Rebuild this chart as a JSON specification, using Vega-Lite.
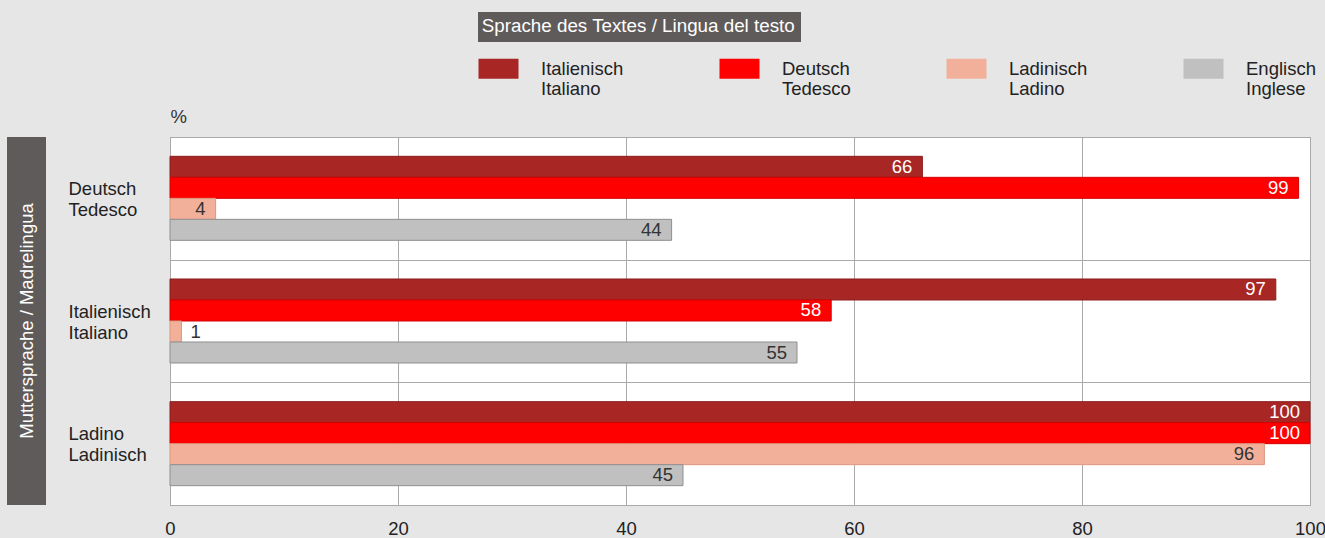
{
  "$schema": "https://vega.github.io/schema/vega-lite/v6.json",
  "background": "#e6e6e6",
  "padding": {"left": 7, "top": 12, "right": 0, "bottom": 0},
  "config": {
    "font": "Liberation Sans",
    "view": {"stroke": null}
  },
  "bounds": "flush",
  "spacing": 124,
  "hconcat": [
    {
      "width": 39,
      "height": 368,
      "view": {"fill": "#5f5b5a", "stroke": null},
      "data": {"values": [{"t": "Muttersprache / Madrelingua"}]},
      "mark": {"type": "text", "angle": 270, "color": "#ffffff", "fontSize": 18.5, "align": "center", "baseline": "middle"},
      "encoding": {"text": {"field": "t"}}
    },
    {
      "width": 1140,
      "height": 368,
      "view": {"fill": "#ffffff", "stroke": "#777777"},
      "data": {"values": [
        {"Muttersprache": "Deutsch|Tedesco", "Textsprache": "Italienisch|Italiano", "Wert": 66},
        {"Muttersprache": "Deutsch|Tedesco", "Textsprache": "Deutsch|Tedesco", "Wert": 99},
        {"Muttersprache": "Deutsch|Tedesco", "Textsprache": "Ladinisch|Ladino", "Wert": 4},
        {"Muttersprache": "Deutsch|Tedesco", "Textsprache": "Englisch|Inglese", "Wert": 44},
        {"Muttersprache": "Italienisch|Italiano", "Textsprache": "Italienisch|Italiano", "Wert": 97},
        {"Muttersprache": "Italienisch|Italiano", "Textsprache": "Deutsch|Tedesco", "Wert": 58},
        {"Muttersprache": "Italienisch|Italiano", "Textsprache": "Ladinisch|Ladino", "Wert": 1},
        {"Muttersprache": "Italienisch|Italiano", "Textsprache": "Englisch|Inglese", "Wert": 55},
        {"Muttersprache": "Ladino|Ladinisch", "Textsprache": "Italienisch|Italiano", "Wert": 100},
        {"Muttersprache": "Ladino|Ladinisch", "Textsprache": "Deutsch|Tedesco", "Wert": 100},
        {"Muttersprache": "Ladino|Ladinisch", "Textsprache": "Ladinisch|Ladino", "Wert": 96},
        {"Muttersprache": "Ladino|Ladinisch", "Textsprache": "Englisch|Inglese", "Wert": 45}
      ]},
      "encoding": {
        "y": {
          "field": "Muttersprache", "type": "nominal",
          "sort": ["Deutsch|Tedesco", "Italienisch|Italiano", "Ladino|Ladinisch"],
          "scale": {"paddingInner": 0, "paddingOuter": 0},
          "axis": {
            "title": "%", "titleAngle": 0, "titleAlign": "left", "titleBaseline": "bottom",
            "titleX": 0, "titleY": -11, "titleFontSize": 18.5, "titleFontWeight": "normal", "titleColor": "#333333",
            "labelExpr": "split(datum.label, '|')",
            "labelAlign": "left", "labelPadding": 102, "labelFontSize": 18.5, "labelColor": "#222222",
            "labelLineHeight": 21, "labelOffset": -10,
            "ticks": false, "tickSize": 0, "domain": false,
            "grid": true, "tickBand": "extent", "gridColor": "#aaaaaa", "gridOpacity": 1
          }
        },
        "yOffset": {
          "field": "Textsprache", "type": "nominal",
          "sort": ["Italienisch|Italiano", "Deutsch|Tedesco", "Ladinisch|Ladino", "Englisch|Inglese"],
          "scale": {"paddingInner": 0, "paddingOuter": 0.92}
        },
        "x": {
          "field": "Wert", "type": "quantitative",
          "scale": {"domain": [0, 100], "nice": false},
          "axis": {
            "title": null, "values": [0, 20, 40, 60, 80, 100], "labelFlush": false,
            "labelFontSize": 18.5, "labelColor": "#222222", "labelPadding": 14,
            "ticks": false, "domain": false,
            "grid": true, "gridColor": "#aaaaaa", "gridOpacity": 1
          }
        }
      },
      "layer": [
        {
          "mark": {"type": "bar", "strokeWidth": 1},
          "encoding": {
            "color": {
              "field": "Textsprache", "type": "nominal",
              "sort": ["Italienisch|Italiano", "Deutsch|Tedesco", "Ladinisch|Ladino", "Englisch|Inglese"],
              "scale": {"range": ["#a82624", "#ff0000", "#f2b09a", "#c0c0c0"]},
              "legend": {
                "title": null, "orient": "none", "legendX": 471, "legendY": -89,
                "direction": "horizontal", "columns": 4, "columnPadding": 95, "padding": 0,
                "symbolType": "M-1,-0.5H1V0.5H-1Z", "symbolSize": 1600, "symbolStrokeWidth": 1,
                "symbolOpacity": 1,
                "labelExpr": "split(datum.label, '|')", "labelOffset": 22,
                "labelFontSize": 18.5, "labelColor": "#222222", "labelLineHeight": 21,
                "labelBaseline": "middle", "labelLimit": 300
              }
            },
            "stroke": {
              "field": "Textsprache", "type": "nominal",
              "sort": ["Italienisch|Italiano", "Deutsch|Tedesco", "Ladinisch|Ladino", "Englisch|Inglese"],
              "scale": {"range": ["#8a1f1d", "#d40000", "#d9967f", "#8f8f8f"]},
              "legend": null
            }
          }
        },
        {
          "transform": [{"filter": "datum.Wert >= 2"}],
          "mark": {"type": "text", "align": "right", "baseline": "middle", "dx": -10, "fontSize": 18.5},
          "encoding": {
            "text": {"field": "Wert", "type": "quantitative"},
            "color": {
              "condition": {"test": "datum.Textsprache === 'Italienisch|Italiano' || datum.Textsprache === 'Deutsch|Tedesco'", "value": "#ffffff"},
              "value": "#333333"
            }
          }
        },
        {
          "transform": [{"filter": "datum.Wert < 2"}],
          "mark": {"type": "text", "align": "left", "baseline": "middle", "dx": 9, "fontSize": 18.5, "color": "#333333"},
          "encoding": {
            "text": {"field": "Wert", "type": "quantitative"}
          }
        },
        {
          "data": {"values": [{"Titel": "Sprache des Textes / Lingua del testo"}]},
          "mark": {"type": "point", "opacity": 0, "size": 0},
          "encoding": {
            "x": null, "y": null, "yOffset": null,
            "shape": {
              "field": "Titel", "type": "nominal",
              "legend": {
                "title": null, "orient": "none", "legendX": 471, "legendY": -125,
                "fillColor": "#5f5b5a", "padding": 5, "symbolSize": 0, "symbolOpacity": 0,
                "symbolStrokeWidth": 0, "labelOffset": -20,
                "labelColor": "#ffffff", "labelFontSize": 18.8, "labelLimit": 400, "labelBaseline": "middle"
              }
            }
          }
        }
      ]
    }
  ]
}
